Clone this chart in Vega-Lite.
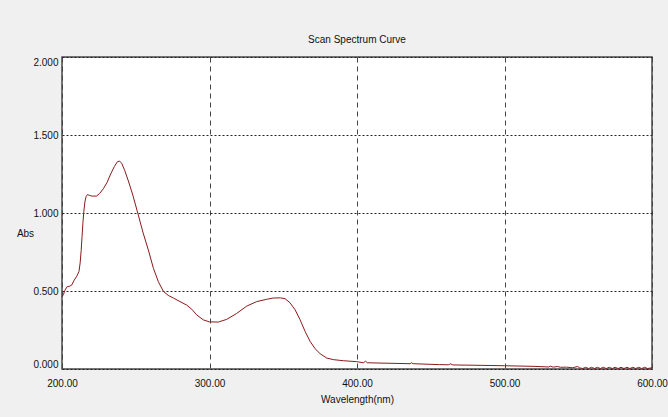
{
  "$schema": "https://vega.github.io/schema/vega-lite/v6.json",
  "autosize": {"type": "none"},
  "width": 590,
  "height": 312,
  "padding": {"left": 62, "top": 57, "right": 16, "bottom": 48},
  "background": "#f0f0f0",
  "title": {
    "text": "Scan Spectrum Curve",
    "font": "Liberation Sans Narrow, Arial Narrow, sans-serif",
    "fontSize": 10,
    "fontWeight": "normal",
    "color": "#111111",
    "anchor": "middle",
    "offset": 12
  },
  "config": {
    "view": {"fill": "#ffffff", "stroke": "#4a4a4a", "strokeWidth": 1.5},
    "axis": {
      "labelFont": "Liberation Sans Narrow, Arial Narrow, sans-serif",
      "titleFont": "Liberation Sans Narrow, Arial Narrow, sans-serif",
      "labelFontSize": 10,
      "titleFontSize": 10,
      "titleFontWeight": "normal",
      "labelColor": "#111111",
      "titleColor": "#111111",
      "domain": false,
      "ticks": false
    }
  },
  "data": {
    "values": [
      {"wl": 200, "abs": 0.463}, {"wl": 201, "abs": 0.478}, {"wl": 202, "abs": 0.505},
      {"wl": 203.5, "abs": 0.528}, {"wl": 205, "abs": 0.53}, {"wl": 206.5, "abs": 0.537},
      {"wl": 208, "abs": 0.565}, {"wl": 210, "abs": 0.595}, {"wl": 211.5, "abs": 0.625},
      {"wl": 212.3, "abs": 0.68}, {"wl": 213, "abs": 0.76}, {"wl": 213.6, "abs": 0.85},
      {"wl": 214.2, "abs": 0.94}, {"wl": 214.8, "abs": 1.01}, {"wl": 215.5, "abs": 1.07},
      {"wl": 216.3, "abs": 1.105}, {"wl": 217.3, "abs": 1.118}, {"wl": 218.5, "abs": 1.113},
      {"wl": 220.5, "abs": 1.108}, {"wl": 223.5, "abs": 1.109}, {"wl": 225.5, "abs": 1.125},
      {"wl": 228, "abs": 1.155}, {"wl": 230.5, "abs": 1.195}, {"wl": 233, "abs": 1.25},
      {"wl": 235.5, "abs": 1.298}, {"wl": 237.5, "abs": 1.328}, {"wl": 239, "abs": 1.333},
      {"wl": 240.5, "abs": 1.318}, {"wl": 242.5, "abs": 1.273}, {"wl": 245, "abs": 1.205},
      {"wl": 248, "abs": 1.115}, {"wl": 251.5, "abs": 0.995}, {"wl": 255, "abs": 0.872},
      {"wl": 258.5, "abs": 0.764}, {"wl": 262, "abs": 0.645}, {"wl": 265.3, "abs": 0.56},
      {"wl": 268.7, "abs": 0.498}, {"wl": 272, "abs": 0.472}, {"wl": 275.5, "abs": 0.455},
      {"wl": 280, "abs": 0.432}, {"wl": 284.5, "abs": 0.41}, {"wl": 288, "abs": 0.383},
      {"wl": 291.3, "abs": 0.347}, {"wl": 295.8, "abs": 0.315}, {"wl": 300, "abs": 0.302},
      {"wl": 306, "abs": 0.301}, {"wl": 311.6, "abs": 0.318}, {"wl": 318.4, "abs": 0.356},
      {"wl": 325.2, "abs": 0.403}, {"wl": 332, "abs": 0.432}, {"wl": 338.8, "abs": 0.447},
      {"wl": 343.3, "abs": 0.455}, {"wl": 348, "abs": 0.456}, {"wl": 351.2, "abs": 0.451},
      {"wl": 354.6, "abs": 0.424}, {"wl": 358, "abs": 0.38}, {"wl": 361.4, "abs": 0.316},
      {"wl": 364.8, "abs": 0.241}, {"wl": 368.2, "abs": 0.177}, {"wl": 371.6, "abs": 0.13},
      {"wl": 375, "abs": 0.098}, {"wl": 379.5, "abs": 0.07}, {"wl": 384, "abs": 0.06},
      {"wl": 390.7, "abs": 0.053}, {"wl": 399.8, "abs": 0.047}, {"wl": 404.3, "abs": 0.04},
      {"wl": 405.8, "abs": 0.05}, {"wl": 407, "abs": 0.04}, {"wl": 415.6, "abs": 0.038},
      {"wl": 436, "abs": 0.034}, {"wl": 437, "abs": 0.04}, {"wl": 438, "abs": 0.034},
      {"wl": 456, "abs": 0.028}, {"wl": 462, "abs": 0.027}, {"wl": 463.5, "abs": 0.033},
      {"wl": 465, "abs": 0.026}, {"wl": 480, "abs": 0.024}, {"wl": 500, "abs": 0.021},
      {"wl": 520, "abs": 0.017}, {"wl": 530, "abs": 0.013}, {"wl": 531, "abs": 0.018},
      {"wl": 533, "abs": 0.012}, {"wl": 536, "abs": 0.016}, {"wl": 538, "abs": 0.011},
      {"wl": 542, "abs": 0.012}, {"wl": 546, "abs": 0.008}, {"wl": 549.6, "abs": 0.016},
      {"wl": 551, "abs": 0.007}, {"wl": 553, "abs": 0.003}, {"wl": 555, "abs": 0.011},
      {"wl": 557, "abs": 0.003}, {"wl": 559, "abs": 0.011}, {"wl": 561, "abs": 0.003},
      {"wl": 563, "abs": 0.011}, {"wl": 565, "abs": 0.003}, {"wl": 567, "abs": 0.011},
      {"wl": 569, "abs": 0.003}, {"wl": 571, "abs": 0.011}, {"wl": 573, "abs": 0.003},
      {"wl": 575, "abs": 0.011}, {"wl": 577, "abs": 0.003}, {"wl": 579, "abs": 0.011},
      {"wl": 581, "abs": 0.003}, {"wl": 583, "abs": 0.011}, {"wl": 585, "abs": 0.003},
      {"wl": 587, "abs": 0.011}, {"wl": 589, "abs": 0.003}, {"wl": 591, "abs": 0.011},
      {"wl": 593, "abs": 0.003}, {"wl": 595, "abs": 0.011}, {"wl": 597, "abs": 0.003},
      {"wl": 600, "abs": 0.008}
    ]
  },
  "mark": {"type": "line", "color": "#8b1a1a", "strokeWidth": 1, "interpolate": "linear"},
  "encoding": {
    "x": {
      "field": "wl",
      "type": "quantitative",
      "scale": {"domain": [200, 600], "nice": false, "zero": false},
      "axis": {
        "title": "Wavelength(nm)",
        "values": [200, 300, 400, 500, 600],
        "format": ".2f",
        "labelPadding": 9,
        "labelFlush": false,
        "titlePadding": 6,
        "grid": true,
        "gridColor": "#444444",
        "gridDash": [5, 4],
        "gridWidth": 1,
        "gridOpacity": 1
      }
    },
    "y": {
      "field": "abs",
      "type": "quantitative",
      "scale": {"domain": [0, 2], "nice": false},
      "axis": {
        "title": "Abs",
        "values": [0, 0.5, 1, 1.5, 2],
        "format": ".3f",
        "labelPadding": 4,
        "labelFlush": true,
        "titleAngle": 0,
        "titleAlign": "center",
        "titleBaseline": "middle",
        "titleX": -37,
        "titleY": 176,
        "grid": true,
        "gridColor": "#222222",
        "gridDash": [2, 2],
        "gridWidth": 1,
        "gridOpacity": 1
      }
    }
  }
}
